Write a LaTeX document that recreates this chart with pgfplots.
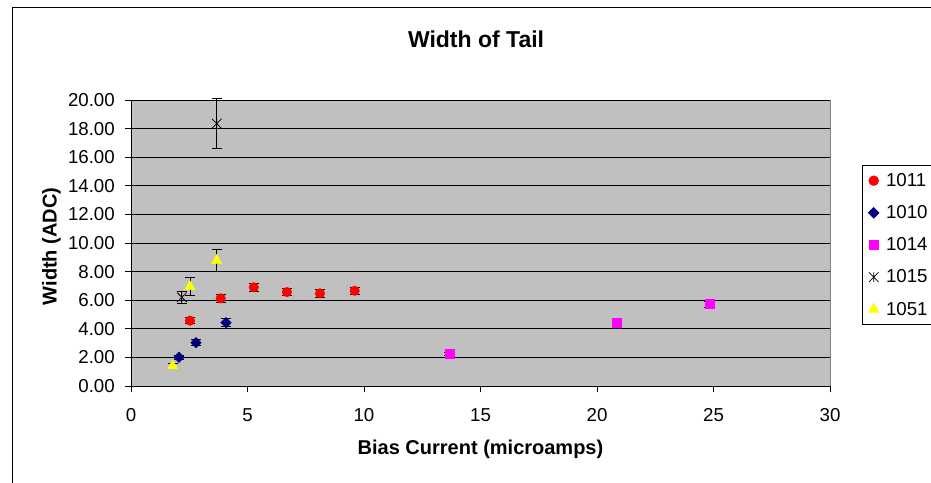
\documentclass[border=0pt]{standalone}
\usepackage{fontspec}
\setmainfont{Liberation Sans}
\usepackage{pgfplots}
\usepackage{pgfplotstable}
\pgfplotsset{compat=1.18}
\definecolor{silverbg}{RGB}{192,192,192}
\definecolor{navyb}{RGB}{0,0,128}
\definecolor{framegray}{RGB}{128,128,128}
\definecolor{xlmagenta}{RGB}{255,0,255}
\definecolor{xlyellow}{RGB}{255,255,0}
\pgfdeclareplotmark{xstar}{%
 \pgfpathmoveto{\pgfqpoint{-\pgfplotmarksize}{-\pgfplotmarksize}}%
 \pgfpathlineto{\pgfqpoint{\pgfplotmarksize}{\pgfplotmarksize}}%
 \pgfpathmoveto{\pgfqpoint{-\pgfplotmarksize}{\pgfplotmarksize}}%
 \pgfpathlineto{\pgfqpoint{\pgfplotmarksize}{-\pgfplotmarksize}}%
 \pgfpathmoveto{\pgfqpoint{0pt}{-\pgfplotmarksize}}%
 \pgfpathlineto{\pgfqpoint{0pt}{\pgfplotmarksize}}%
 \pgfusepathqstroke}
\pgfdeclareplotmark{sqdiamond}{%
 \pgfpathmoveto{\pgfqpoint{0pt}{\pgfplotmarksize}}%
 \pgfpathlineto{\pgfqpoint{\pgfplotmarksize}{0pt}}%
 \pgfpathlineto{\pgfqpoint{0pt}{-\pgfplotmarksize}}%
 \pgfpathlineto{\pgfqpoint{-\pgfplotmarksize}{0pt}}%
 \pgfpathclose
 \pgfusepathqfillstroke}

\pgfplotstableread{
x y e
2.53 4.57 0.20
3.85 6.13 0.25
5.27 6.90 0.25
6.69 6.57 0.25
8.11 6.48 0.25
9.60 6.66 0.25
}\tA
\pgfplotstableread{
x y e
2.06 2.01 0.15
2.79 3.03 0.20
4.08 4.43 0.28
}\tB
\pgfplotstableread{
x y e
13.66 2.24 0.12
20.86 4.45 0.16
24.82 5.73 0.22
}\tC
\pgfplotstableread{
x y e
2.18 6.20 0.40
3.68 18.35 1.75
}\tD
\pgfplotstableread{
x y e
1.79 1.40 0.20
2.53 6.95 0.62
3.68 8.78 0.80
}\tE

\begin{document}
\begin{tikzpicture}
\useasboundingbox (0pt,0pt) rectangle (931pt,482pt);
\draw[black, line width=0.8pt] (12pt,-5pt) -- (12pt,475pt) -- (945pt,475pt);
\begin{axis}[
  at={(131pt,96pt)}, anchor=south west,
  scale only axis, width=699pt, height=286pt,
  xmin=0, xmax=30, ymin=0, ymax=20,
  xtick={0,5,...,30}, ytick={0,2,...,20},
  clip=false,
  axis x line*=bottom, axis y line*=left,
  axis line style={black, line width=0.8pt},
  axis background/.style={fill=silverbg, draw=framegray, line width=0.8pt},
  ymajorgrids, grid style={black, line width=0.8pt},
  tick align=outside, major tick length=6pt,
  tick style={black, line width=0.8pt},
  /pgf/number format/assume math mode=true,
  ticklabel style={font=\fontsize{18.7}{22}\selectfont},
  yticklabel style={/pgf/number format/fixed, /pgf/number format/fixed zerofill, /pgf/number format/precision=2},
  yticklabel style={anchor=east, inner sep=0pt, xshift=-10pt},
  xticklabel style={anchor=north, inner sep=0pt, yshift=-16pt},
  title={Width of Tail},
  title style={at={(axis description cs:0.4936,1.1633)}, anchor=base, font=\bfseries\fontsize{23}{27}\selectfont},
  xlabel={Bias Current (microamps)},
  xlabel style={at={(axis description cs:0.5,-0.2378)}, anchor=base, font=\bfseries\fontsize{20}{24}\selectfont},
  ylabel={Width (ADC)},
  ylabel style={at={(axis description cs:-0.1063,0.488)}, anchor=base, rotate=0, font=\bfseries\fontsize{20}{24}\selectfont},
  legend style={at={(axis description cs:1.0458,0.7727)}, anchor=north west, draw=black, fill=white, line width=0.8pt,
     font=\fontsize{18.7}{22}\selectfont, row sep=13.6pt, inner xsep=6pt, inner ysep=6pt,
     /tikz/every odd column/.append style={column sep=5pt}},
  legend cell align=left,
  error bars/y dir=both, error bars/y explicit,
  error bars/error bar style={black, line width=0.8pt},
  error bars/error mark options={black, line width=0.8pt, mark size=5pt, rotate=90},
]
\addplot[only marks, mark=*, color=red, mark size=4.8pt] table[x=x,y=y,y error=e]{\tA};
\addlegendentry{1011}
\addplot[only marks, mark=sqdiamond, color=navyb, mark size=5.3pt] table[x=x,y=y,y error=e]{\tB};
\addlegendentry{1010}
\addplot[only marks, mark=square*, color=xlmagenta, mark size=4.5pt] table[x=x,y=y,y error=e]{\tC};
\addlegendentry{1014}
\addplot[only marks, mark=xstar, color=black, mark size=4.8pt, mark options={line width=0.8pt}] table[x=x,y=y,y error=e]{\tD};
\addlegendentry{1015}
\addplot[only marks, mark=triangle*, color=xlyellow, mark size=6pt] table[x=x,y=y,y error=e]{\tE};
\addlegendentry{1051}
\end{axis}
\end{tikzpicture}
\end{document}
